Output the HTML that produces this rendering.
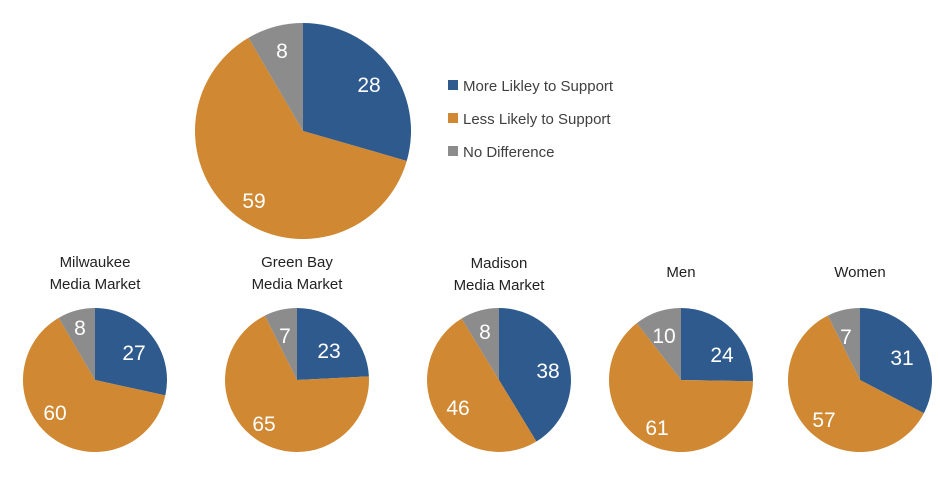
<!DOCTYPE html>
<html><head><style>
body{margin:0;background:#fff;width:940px;height:479px;overflow:hidden}
svg{display:block}
text{font-family:"Liberation Sans",sans-serif}
</style></head><body>
<svg id="s" width="940" height="479" xmlns="http://www.w3.org/2000/svg">
<g id="pies"></g>
<g font-size="21" fill="#fff" text-anchor="middle">
<text x="369" y="92">28</text><text x="254" y="208">59</text><text x="282" y="58">8</text>
<text x="134" y="360">27</text><text x="55" y="420">60</text><text x="80" y="335">8</text>
<text x="329" y="358">23</text><text x="264" y="431">65</text><text x="285" y="343">7</text>
<text x="548" y="378">38</text><text x="458" y="415">46</text><text x="485" y="339">8</text>
<text x="722" y="362">24</text><text x="657" y="435">61</text><text x="664" y="343">10</text>
<text x="902" y="365">31</text><text x="824" y="427">57</text><text x="846" y="344">7</text>
</g>
<g font-size="15" fill="#404040">
<rect x="448" y="80" width="10" height="10" fill="#2E5A8E"/><text x="463" y="91">More Likley to Support</text>
<rect x="448" y="113" width="10" height="10" fill="#D08832"/><text x="463" y="124">Less Likely to Support</text>
<rect x="448" y="146" width="10" height="10" fill="#8C8C8C"/><text x="463" y="157">No Difference</text>
</g>
<g font-size="15" fill="#222" text-anchor="middle">
<text x="95" y="267">Milwaukee</text><text x="95" y="289">Media Market</text>
<text x="297" y="267">Green Bay</text><text x="297" y="289">Media Market</text>
<text x="499" y="268">Madison</text><text x="499" y="290">Media Market</text>
<text x="681" y="277">Men</text><text x="860" y="277">Women</text>
</g>
</svg>
<script>
var pies=[[303,131,108,[28,59,8]],[95,380,72,[27,60,8]],[297,380,72,[23,65,7]],[499,380,72,[38,46,8]],[681,380,72,[24,61,10]],[860,380,72,[31,57,7]]];
var cols=["#2E5A8E","#D08832","#8C8C8C"],h="";
pies.forEach(function(p){var cx=p[0],cy=p[1],r=p[2],v=p[3],s=v[0]+v[1]+v[2],a=0;
v.forEach(function(x,i){var a2=a+x/s*2*Math.PI;
var x1=cx+r*Math.sin(a),y1=cy-r*Math.cos(a),x2=cx+r*Math.sin(a2),y2=cy-r*Math.cos(a2);
h+='<path d="M'+cx+' '+cy+'L'+x1+' '+y1+'A'+r+' '+r+' 0 '+((a2-a)>Math.PI?1:0)+' 1 '+x2+' '+y2+'Z" fill="'+cols[i]+'"/>';a=a2;});});
document.getElementById("pies").innerHTML=h;
</script>
</body></html>
